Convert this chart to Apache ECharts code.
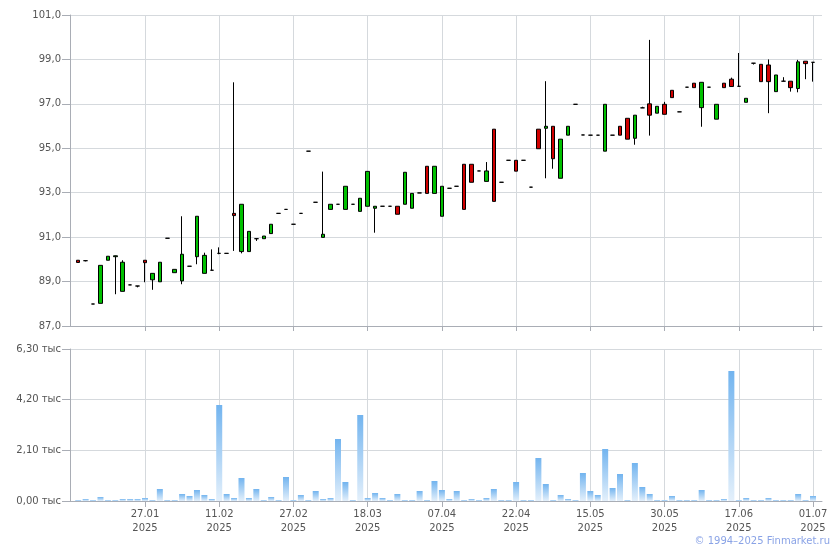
<!DOCTYPE html>
<html><head><meta charset="utf-8">
<script src="https://cdn.jsdelivr.net/npm/echarts@6/dist/echarts.min.js"></script>
<style>html,body{margin:0;padding:0;background:#fff}#c{width:840px;height:550px}</style>
</head><body><div id="c"></div>
<script>
const dates = [
'14.01.2025','15.01.2025','16.01.2025','17.01.2025','20.01.2025','21.01.2025','22.01.2025','23.01.2025','24.01.2025','27.01.2025',
'28.01.2025','29.01.2025','30.01.2025','31.01.2025','03.02.2025','04.02.2025','05.02.2025','07.02.2025','10.02.2025','11.02.2025',
'12.02.2025','13.02.2025','17.02.2025','18.02.2025','19.02.2025','20.02.2025','24.02.2025','25.02.2025','26.02.2025','27.02.2025',
'28.02.2025','03.03.2025','05.03.2025','06.03.2025','10.03.2025','11.03.2025','13.03.2025','14.03.2025','17.03.2025','18.03.2025',
'19.03.2025','20.03.2025','24.03.2025','26.03.2025','27.03.2025','31.03.2025','01.04.2025','02.04.2025','04.04.2025','07.04.2025',
'08.04.2025','09.04.2025','10.04.2025','11.04.2025','14.04.2025','15.04.2025','16.04.2025','18.04.2025','21.04.2025','22.04.2025',
'23.04.2025','24.04.2025','25.04.2025','28.04.2025','30.04.2025','05.05.2025','07.05.2025','12.05.2025','14.05.2025','15.05.2025',
'16.05.2025','19.05.2025','20.05.2025','21.05.2025','22.05.2025','26.05.2025','27.05.2025','28.05.2025','29.05.2025','30.05.2025',
'02.06.2025','03.06.2025','04.06.2025','05.06.2025','06.06.2025','09.06.2025','10.06.2025','11.06.2025','16.06.2025','17.06.2025',
'18.06.2025','19.06.2025','20.06.2025','23.06.2025','24.06.2025','25.06.2025','26.06.2025','27.06.2025','30.06.2025','01.07.2025'
];
const open = [
89.96,89.94,87.99,88.02,89.96,90.12,88.56,88.85,88.80,89.96,
89.08,88.99,90.95,89.40,89.03,89.69,90.12,89.37,89.51,90.27,
90.27,92.07,90.35,90.35,90.93,90.93,91.16,92.07,92.25,91.58,
92.07,94.87,92.57,90.99,92.25,92.48,92.25,92.48,92.16,92.39,
92.30,92.39,92.39,92.39,92.48,92.30,92.99,94.19,92.97,91.94,
93.20,93.29,94.28,94.28,93.98,93.51,95.86,93.47,94.46,94.46,
94.46,93.25,95.86,95.90,95.99,93.65,95.59,96.98,95.60,95.59,
95.59,94.87,95.59,95.99,96.35,95.45,96.82,97.00,96.58,96.98,
97.61,96.64,97.75,97.93,96.83,97.75,96.31,97.93,98.11,97.79,
97.07,98.83,98.78,98.75,97.55,98.02,98.02,97.69,98.92,98.87];
const close = [
89.86,89.94,87.99,89.73,90.14,90.16,89.87,88.85,88.80,89.85,
89.37,89.87,90.95,89.55,90.23,89.69,91.94,90.18,89.51,90.27,
90.27,91.97,92.48,91.26,90.93,91.05,91.58,92.07,92.25,91.58,
92.07,94.87,92.57,91.13,92.48,92.48,93.29,92.48,92.75,93.96,
92.39,92.39,92.39,92.03,93.92,92.97,92.99,92.97,94.19,93.29,
93.20,93.29,92.25,93.47,93.98,93.98,92.61,93.47,94.46,93.97,
94.46,93.25,94.98,95.99,94.53,95.41,95.99,96.98,95.60,95.59,
95.59,96.98,95.59,95.59,95.41,96.49,96.82,96.49,96.89,96.53,
97.28,96.64,97.75,97.73,97.97,97.75,96.98,97.73,97.78,97.79,
97.25,98.83,98.00,98.00,98.30,98.02,97.73,98.89,98.81,98.87];
const low = [
89.86,89.91,87.99,88.02,89.96,88.43,88.56,88.85,88.74,88.97,
88.63,88.99,90.95,89.40,88.88,89.69,89.78,89.37,89.51,90.23,
90.27,90.38,90.27,90.35,90.83,90.93,91.16,92.07,92.25,91.58,
92.07,94.87,92.57,90.99,92.25,92.48,92.25,92.48,92.16,92.39,
91.20,92.39,92.39,92.03,92.48,92.30,92.99,92.97,92.97,91.94,
93.20,93.29,92.25,93.47,93.98,93.51,92.61,93.47,94.46,93.97,
94.46,93.25,94.98,93.65,94.08,93.65,95.59,96.98,95.60,95.59,
95.59,94.87,95.59,95.59,95.41,95.16,96.82,95.57,96.58,96.53,
97.28,96.64,97.75,97.73,95.97,97.75,96.31,97.73,97.78,97.79,
97.07,98.77,98.00,96.58,97.55,98.02,97.55,97.52,98.11,98.00];
const high = [
89.96,89.94,87.99,89.73,90.14,90.17,89.96,88.85,88.80,89.96,
89.37,89.87,90.95,89.55,91.94,89.69,91.94,90.30,90.45,90.54,
90.27,97.97,92.48,91.26,90.95,91.05,91.58,92.07,92.25,91.58,
92.07,94.87,92.57,93.95,92.48,92.48,93.29,92.48,92.75,93.96,
92.39,92.39,92.39,92.39,93.92,92.97,92.99,94.19,94.19,93.29,
93.20,93.29,94.28,94.28,93.98,94.38,95.86,93.47,94.46,94.46,
94.46,93.25,95.86,98.02,95.99,95.41,95.99,96.98,95.60,95.59,
95.59,96.98,95.59,95.99,96.35,96.49,96.87,99.88,96.89,97.09,
97.61,96.64,97.75,97.93,97.97,97.75,96.98,97.93,98.18,99.29,
97.25,98.83,98.78,99.00,98.30,98.20,98.02,98.98,98.92,98.87];
const volume = [
41,83,41,166,41,41,83,83,83,124,
41,497,41,41,290,207,456,249,83,3979,
290,124,953,124,497,41,166,41,995,41,
249,41,414,83,124,2570,788,41,3565,124,
332,124,41,290,41,41,414,41,829,456,
83,414,41,83,41,124,497,41,41,788,
41,41,1782,705,41,249,83,41,1161,414,
249,2155,539,1119,41,1575,580,290,41,41,
207,41,41,41,456,41,41,83,5388,41,
124,41,41,124,41,41,41,290,41,207];
const copyright = '© 1994–2025 Finmarket.ru';

const AXIS = '#a9adb5', GRID = '#d5d9dd', TXT = '#555', FONT = 'DejaVu Sans';
const every10 = (i) => i % 10 === 9;
const candles = dates.map((d, i) => [open[i], close[i], low[i], high[i]]);

const chart = echarts.init(document.getElementById('c'));
const bgX = (g) => ({gridIndex: g, type: 'value', min: 0, max: 1,
  axisLine: {show: true, onZero: false, lineStyle: {color: AXIS}},
  axisTick: {show: false}, axisLabel: {show: false}, splitLine: {show: false}});
const dataX = (g, labels, tickLen) => ({gridIndex: g, type: 'category', data: dates, boundaryGap: false,
  axisLine: {show: false},
  axisTick: {show: true, interval: every10, length: tickLen, lineStyle: {color: AXIS}},
  axisLabel: {show: labels, interval: every10, margin: 6, color: TXT, fontFamily: FONT, fontSize: 10, lineHeight: 14,
    formatter: (v) => v.slice(0, 5) + '\n' + v.slice(6)},
  splitLine: {show: true, interval: every10, lineStyle: {color: GRID}}});
chart.setOption({
  animation: false,
  backgroundColor: '#fff',
  grid: [
    {left: 70, right: 18, top: 15, height: 311},
    {left: 78.2, right: 27, top: 15, height: 311},
    {left: 70, right: 18, top: 349, height: 152},
    {left: 78.2, right: 27, top: 349, height: 152}
  ],
  xAxis: [bgX(0), dataX(1, false, 5), bgX(2), dataX(3, true, 6)],
  yAxis: [
    {gridIndex: 0, type: 'value', min: 87, max: 101, interval: 2,
      axisLine: {show: true, lineStyle: {color: AXIS}},
      axisTick: {show: true, length: 8, lineStyle: {color: AXIS}},
      axisLabel: {margin: 9, color: TXT, fontFamily: FONT, fontSize: 10,
        formatter: (v) => v.toFixed(1).replace('.', ',')},
      splitLine: {show: true, lineStyle: {color: GRID}}},
    {gridIndex: 1, type: 'value', min: 87, max: 101, show: false},
    {gridIndex: 2, type: 'value', min: 0, max: 6300, interval: 2100,
      axisLine: {show: true, lineStyle: {color: AXIS}},
      axisTick: {show: true, length: 8, lineStyle: {color: AXIS}},
      axisLabel: {margin: 9, color: TXT, fontFamily: FONT, fontSize: 10,
        formatter: (v) => (v / 1000).toFixed(2).replace('.', ',') + ' тыс'},
      splitLine: {show: true, lineStyle: {color: GRID}}},
    {gridIndex: 3, type: 'value', min: 0, max: 6300, show: false}
  ],
  series: [
    {type: 'candlestick', xAxisIndex: 1, yAxisIndex: 1, data: candles, barWidth: 4,
      itemStyle: {color: '#00c000', color0: '#d00000', borderColor: '#000', borderColor0: '#000',
        borderColorDoji: '#000', borderWidth: 1}},
    {type: 'bar', xAxisIndex: 3, yAxisIndex: 3, data: volume, barWidth: 6,
      itemStyle: {color: new echarts.graphic.LinearGradient(0, 0, 0, 1, [
        {offset: 0, color: '#72b4ef'}, {offset: 1, color: '#e4f0fb'}])}}
  ],
  graphic: [{type: 'text', right: 10, top: 536,
    style: {text: copyright, fill: '#8aa3e6', font: '10px "DejaVu Sans"'}}]
});
</script></body></html>
